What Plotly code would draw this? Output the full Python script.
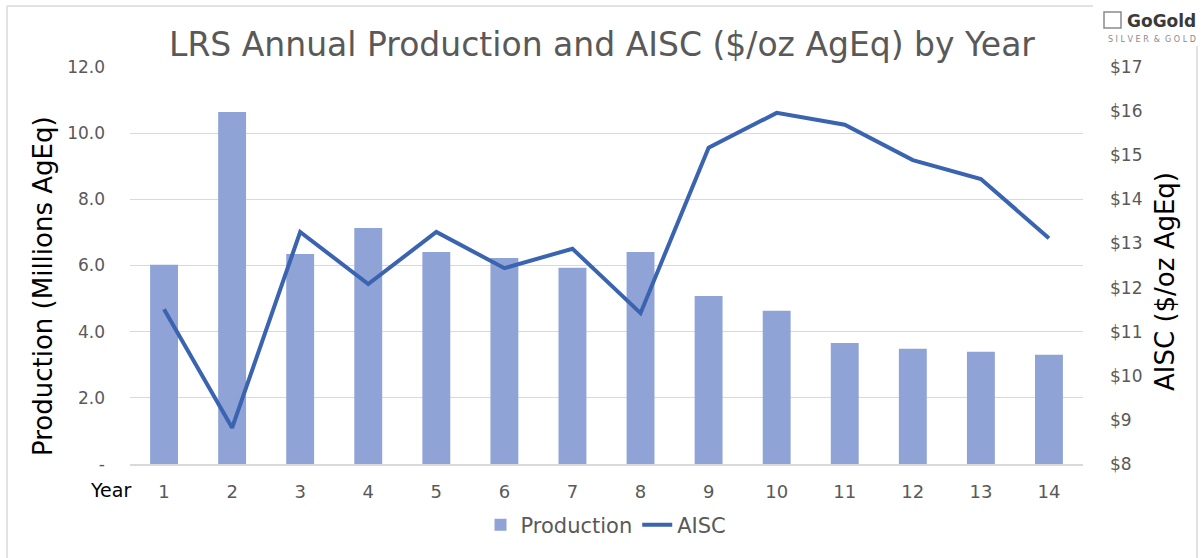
import plotly.graph_objects as go

years = [str(i) for i in range(1, 15)]
production = [6.02, 10.64, 6.35, 7.13, 6.41, 6.23, 5.93, 6.41, 5.08, 4.63, 3.66, 3.48, 3.39, 3.30]
aisc = [11.51, 8.82, 13.26, 12.08, 13.26, 12.44, 12.88, 11.42, 15.17, 15.96, 15.69, 14.89, 14.46, 13.12]
left_ticks = [0, 2, 4, 6, 8, 10, 12]
left_labels = ["-", "2.0", "4.0", "6.0", "8.0", "10.0", "12.0"]
right_ticks = list(range(8, 18))
right_labels = ["$" + str(v) for v in right_ticks]

W, H = 1202, 558
L, R, T, B = 130, 1083, 67, 464
FONT = "DejaVu Sans"
GRAY = "#595959"


def px(x):
    return (x - L) / (R - L)


def py(y):
    return (B - y) / (B - T)


fig = go.Figure()
fig.add_trace(go.Bar(x=years, y=production, name="Production",
                     marker=dict(color="#8FA3D6", line=dict(width=0)), yaxis="y"))
fig.add_trace(go.Scatter(x=years, y=aisc, name="AISC", mode="lines",
                         line=dict(color="#3A63B0", width=4), yaxis="y2"))

shapes = [
    # outer frame
    dict(type="line", xref="paper", yref="paper", x0=px(7), x1=px(7), y0=py(6), y1=py(560),
         line=dict(color="#D9D9D9", width=1.5)),
    dict(type="line", xref="paper", yref="paper", x0=px(7), x1=px(1197), y0=py(6), y1=py(6),
         line=dict(color="#D9D9D9", width=1.5)),
    dict(type="line", xref="paper", yref="paper", x0=px(1197), x1=px(1197), y0=py(6), y1=py(560),
         line=dict(color="#D9D9D9", width=1.5)),
    # logo backing
    dict(type="rect", xref="paper", yref="paper", x0=px(1093), x1=px(1202), y0=py(0), y1=py(46),
         fillcolor="white", line=dict(width=0)),
    dict(type="rect", xref="paper", yref="paper", x0=px(1104), x1=px(1121), y0=py(12), y1=py(28),
         fillcolor="white", line=dict(color="#8a8a8a", width=1.5)),
]

annotations = [
    dict(text="Production (Millions AgEq)", x=px(43), y=py(286), xref="paper", yref="paper",
         textangle=-90, showarrow=False, font=dict(family=FONT, size=26, color="black"),
         xanchor="center", yanchor="middle"),
    dict(text="AISC ($/oz AgEq)", x=px(1165), y=py(282), xref="paper", yref="paper",
         textangle=-90, showarrow=False, font=dict(family=FONT, size=26, color="black"),
         xanchor="center", yanchor="middle"),
    dict(text="Year", x=px(133), y=py(490), xref="paper", yref="paper", showarrow=False,
         font=dict(family=FONT, size=19, color="black"), xanchor="right", yanchor="middle"),
    dict(text="<b>GoGold</b>", x=px(1198), y=py(21), xref="paper", yref="paper", showarrow=False,
         font=dict(family=FONT, size=17, color="#3a3a3a"), xanchor="right", yanchor="middle"),
    dict(text="S I L V E R  &  G O L D", x=px(1198), y=py(39), xref="paper", yref="paper",
         showarrow=False, font=dict(family=FONT, size=8, color="#8a8a8a"),
         xanchor="right", yanchor="middle"),
]

fig.update_layout(
    width=W, height=H,
    margin=dict(l=L, r=W - R, t=T, b=H - B, pad=0),
    paper_bgcolor="white", plot_bgcolor="white",
    title=dict(text="LRS Annual Production and AISC ($/oz AgEq) by Year",
               x=px(602), xref="paper", xanchor="center",
               y=1 - 44 / H, yref="container", yanchor="middle",
               font=dict(family=FONT, size=33, color=GRAY)),
    font=dict(family=FONT, color=GRAY),
    bargap=0.59,
    showlegend=True,
    legend=dict(orientation="h", x=px(606), xanchor="center", y=py(525), yanchor="middle",
                font=dict(family=FONT, size=21, color=GRAY), bgcolor="rgba(0,0,0,0)",
                traceorder="normal"),
    xaxis=dict(type="category", showgrid=False, showline=True, linecolor="#D9D9D9", linewidth=1.5,
               ticks="", tickfont=dict(family=FONT, size=18, color=GRAY), ticklabelstandoff=11),
    yaxis=dict(range=[0, 12], tickvals=left_ticks, ticktext=left_labels, showgrid=True,
               gridcolor="#D9D9D9", gridwidth=1, zeroline=False, showline=False, ticks="",
               tickfont=dict(family=FONT, size=17, color=GRAY), ticklabelstandoff=24),
    yaxis2=dict(range=[8, 17], tickvals=right_ticks, ticktext=right_labels, overlaying="y",
                side="right", showgrid=False, zeroline=False, showline=False, ticks="",
                tickfont=dict(family=FONT, size=17, color=GRAY), ticklabelstandoff=26),
    shapes=shapes,
    annotations=annotations,
)

fig.write_html("out.html", config={"displayModeBar": False},
               post_script="document.body.style.margin='0';")
